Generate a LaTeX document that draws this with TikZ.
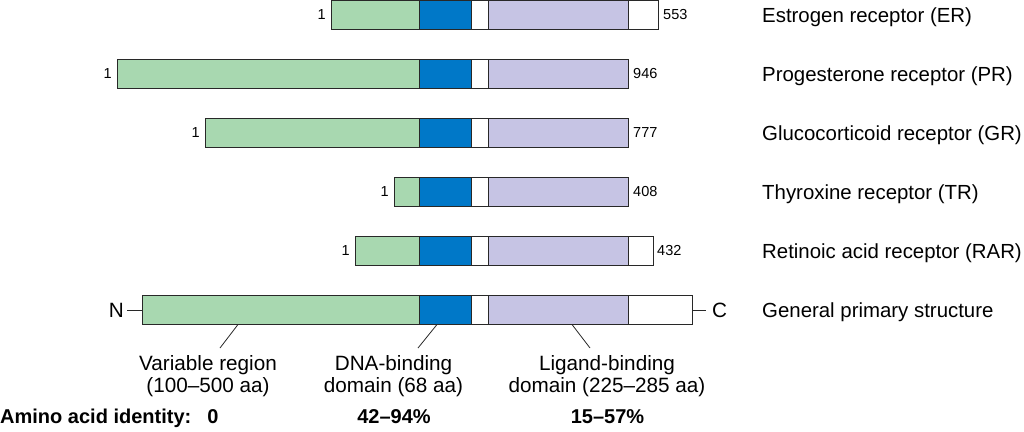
\documentclass[tikz,border=0pt]{standalone}
\usepackage{fontspec}
\setmainfont{Liberation Sans}
\usetikzlibrary{positioning,calc}

\definecolor{vargreen}{RGB}{168,216,176}
\definecolor{dnablue}{RGB}{0,120,200}
\definecolor{lbdlilac}{RGB}{198,196,228}
\definecolor{edge}{RGB}{40,40,40}

\tikzset{
  seg/.style={rectangle, draw=edge, line width=0.9pt, minimum height=29pt, inner sep=0pt, outer sep=0pt},
  vr/.style={seg, fill=vargreen, minimum width=#1},
  dbd/.style={seg, fill=dnablue, minimum width=52pt},
  hinge/.style={seg, fill=white, minimum width=17pt},
  lbd/.style={seg, fill=lbdlilac, minimum width=140pt},
  cterm/.style={seg, fill=white, minimum width=#1},
  numlbl/.style={font=\fontsize{14.5}{16}\selectfont, inner sep=0pt},
  rcpt/.style={font=\fontsize{20.4}{22}\selectfont, anchor=base west, inner sep=0pt},
  endlbl/.style={font=\fontsize{20.7}{22}\selectfont, inner sep=0pt},
  domlbl/.style={font=\fontsize{20.7}{22}\selectfont, align=center, anchor=north, inner sep=0pt},
  idtxt/.style={font=\fontsize{20}{22}\selectfont\bfseries, inner sep=0pt},
  leader/.style={draw=edge, line width=0.8pt}
}

\begin{document}
\begin{tikzpicture}[x=1pt, y=-1pt]
  \useasboundingbox (0,0) rectangle (1024,431);

  % estrogen receptor
  \node (er1) at (331,15) [vr=88pt, anchor=west] {};
  \node (er2) [dbd, right=0pt of er1] {};
  \node (er3) [hinge, right=0pt of er2] {};
  \node (er4) [lbd, right=0pt of er3] {};
  \node (er5) [cterm=30pt, right=0pt of er4] {};
  \node (er0) [numlbl, left=5pt of er1] {1};
  \node (ern) [numlbl, right=5pt of er5] {553};
  \node (ert) at (762,22.5) [rcpt] {Estrogen receptor (ER)};

  % progesterone receptor
  \node (pr1) at (117,74) [vr=302pt, anchor=west] {};
  \node (pr2) [dbd, right=0pt of pr1] {};
  \node (pr3) [hinge, right=0pt of pr2] {};
  \node (pr4) [lbd, right=0pt of pr3] {};
  \node (pr0) [numlbl, left=5pt of pr1] {1};
  \node (prn) [numlbl, right=5pt of pr4] {946};
  \node (prt) at (762,81.5) [rcpt] {Progesterone receptor (PR)};

  % glucocorticoid receptor
  \node (gr1) at (205,133) [vr=214pt, anchor=west] {};
  \node (gr2) [dbd, right=0pt of gr1] {};
  \node (gr3) [hinge, right=0pt of gr2] {};
  \node (gr4) [lbd, right=0pt of gr3] {};
  \node (gr0) [numlbl, left=5pt of gr1] {1};
  \node (grn) [numlbl, right=5pt of gr4] {777};
  \node (grt) at (762,140.5) [rcpt] {Glucocorticoid receptor (GR)};

  % thyroxine receptor
  \node (tr1) at (394,192) [vr=25pt, anchor=west] {};
  \node (tr2) [dbd, right=0pt of tr1] {};
  \node (tr3) [hinge, right=0pt of tr2] {};
  \node (tr4) [lbd, right=0pt of tr3] {};
  \node (tr0) [numlbl, left=5pt of tr1] {1};
  \node (trn) [numlbl, right=5pt of tr4] {408};
  \node (trt) at (762,199.5) [rcpt] {Thyroxine receptor (TR)};

  % retinoic acid receptor
  \node (rar1) at (355,251) [vr=64pt, anchor=west] {};
  \node (rar2) [dbd, right=0pt of rar1] {};
  \node (rar3) [hinge, right=0pt of rar2] {};
  \node (rar4) [lbd, right=0pt of rar3] {};
  \node (rar5) [cterm=25pt, right=0pt of rar4] {};
  \node (rar0) [numlbl, left=5pt of rar1] {1};
  \node (rarn) [numlbl, right=4pt of rar5] {432};
  \node (rart) at (762,258.5) [rcpt] {Retinoic acid receptor (RAR)};

  % general primary structure
  \node (g1) at (142,310) [vr=277pt, anchor=west] {};
  \node (g2) [dbd, right=0pt of g1] {};
  \node (g3) [hinge, right=0pt of g2] {};
  \node (g4) [lbd, right=0pt of g3] {};
  \node (g5) [cterm=64pt, right=0pt of g4] {};
  \node (nterm) [endlbl, left=18pt of g1] {N};
  \node (cterm) [endlbl, right=20pt of g5] {C};
  \draw[leader] ($(nterm.east)+(3,0)$) -- (g1.west);
  \draw[leader] (g5.east) -- ($(cterm.west)+(-6,0)$);
  \node (gt) at (762,317.5) [rcpt] {General primary structure};

  % domain labels
  \node (varlbl) at (208,355) [domlbl] {Variable region\\(100–500 aa)};
  \node (dnalbl) at (393.5,355) [domlbl] {DNA-binding\\domain (68 aa)};
  \node (ligLbl) at (607,355) [domlbl] {Ligand-binding\\domain (225–285 aa)};
  \draw[leader] ($(g1.south west)+(96,0)$) -- ($(varlbl.north)+(12,-7)$);
  \draw[leader] ($(g2.south west)+(18,0)$) -- ($(dnalbl.north)+(24.5,-7)$);
  \draw[leader] ($(g4.south west)+(84,0)$) -- ($(ligLbl.north)+(-17,-7)$);

  % amino acid identity
  \node (aaid) at (0,423.5) [idtxt, anchor=base west] {Amino acid identity:};
  \node (id0) at (213,423.5) [idtxt, anchor=base] {0};
  \node (id1) at (394,423.5) [idtxt, anchor=base] {42–94\%};
  \node (id2) at (607.5,423.5) [idtxt, anchor=base] {15–57\%};
\end{tikzpicture}
\end{document}
